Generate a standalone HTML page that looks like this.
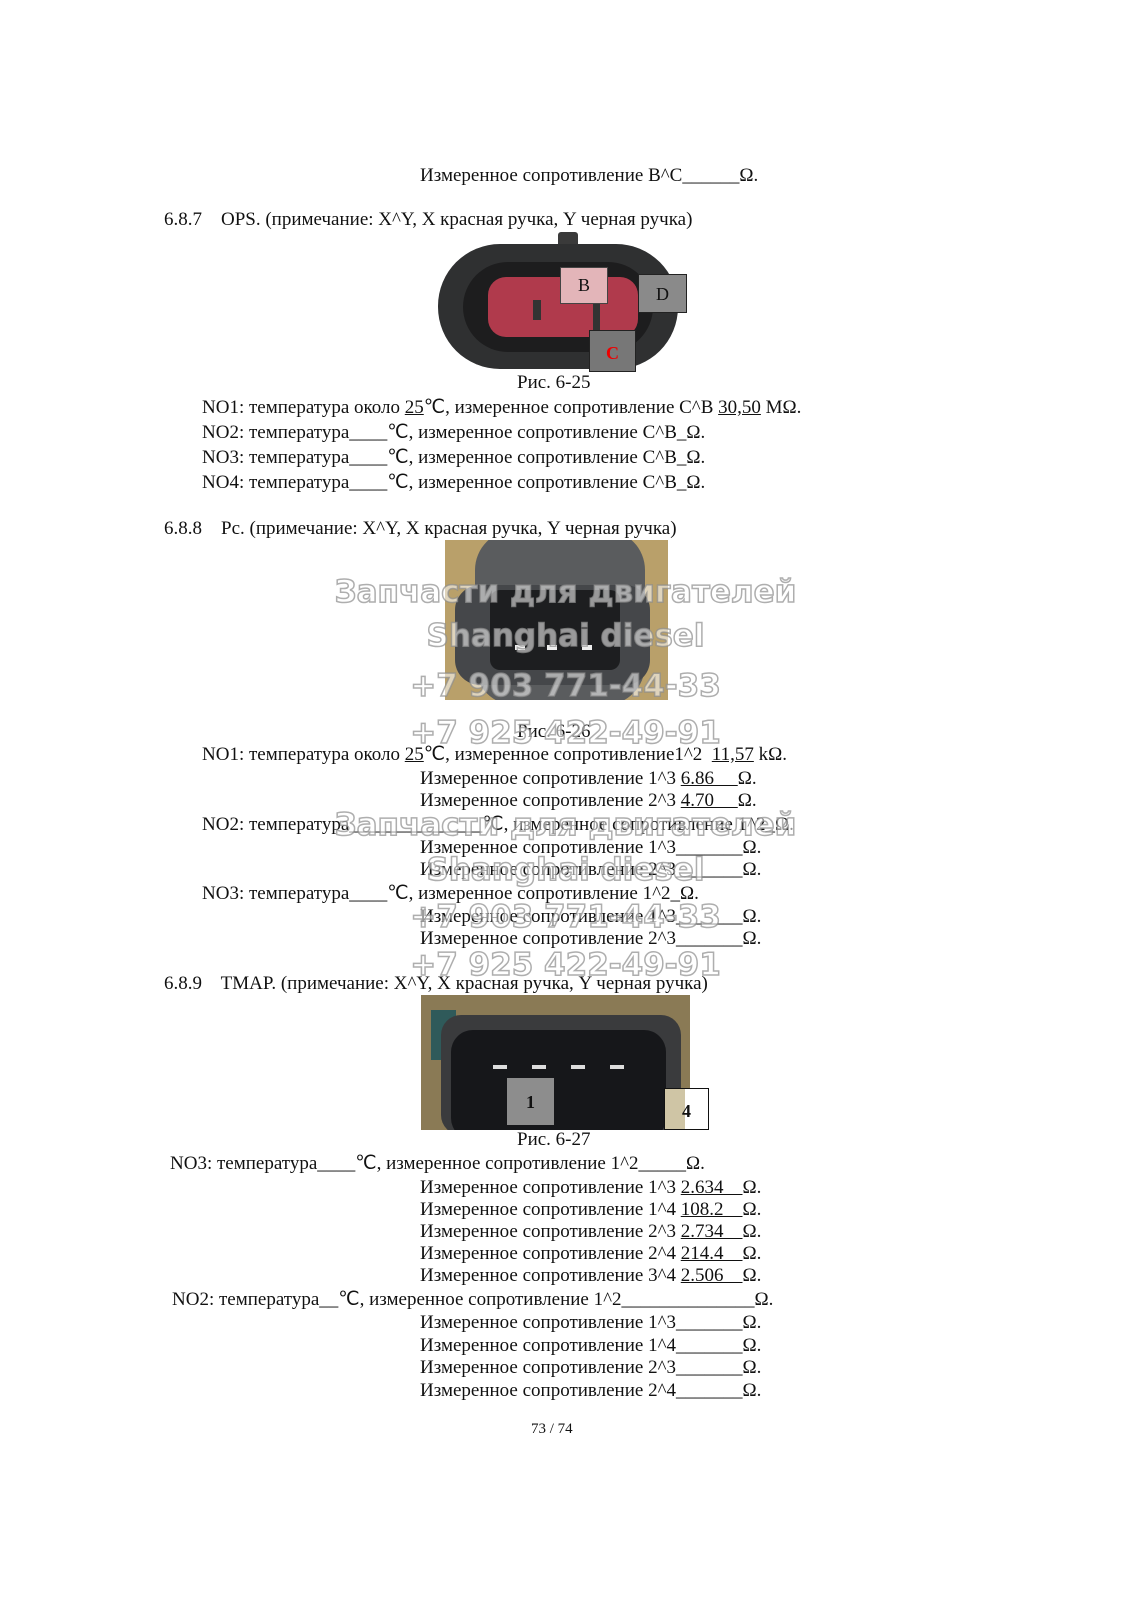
<!DOCTYPE html>
<html><head><meta charset="utf-8"><style>
body{margin:0;width:1131px;height:1600px;background:#fff;position:relative;overflow:hidden;font-family:"Liberation Serif",serif;font-size:19px;color:#111}
.t{position:absolute;white-space:pre;line-height:22px;height:22px}
u{text-decoration:underline}
.wm{position:absolute;left:0;width:1131px;text-align:center;font-family:"DejaVu Sans","Liberation Sans",sans-serif;font-weight:bold;font-size:31px;color:rgba(255,255,255,0.55);-webkit-text-stroke:1.5px rgba(140,140,140,0.7);line-height:40px}
.box{position:absolute;font-size:18px;text-align:center}
</style></head><body>
<div class="t" style="left:420px;top:165px">Измеренное сопротивление B^C______Ω.</div>
<div class="t" style="left:164px;top:209px">6.8.7    OPS. (примечание: X^Y, X красная ручка, Y черная ручка)</div>

<div style="position:absolute;left:438px;top:232px;width:250px;height:140px;">
 <div style="position:absolute;left:120px;top:0;width:20px;height:20px;background:#3a3a3a;border-radius:3px"></div>
 <div style="position:absolute;left:0;top:12px;width:240px;height:125px;background:#2f3031;border-radius:62px"></div>
 <div style="position:absolute;left:25px;top:30px;width:190px;height:90px;background:#1d1d1e;border-radius:45px"></div>
 <div style="position:absolute;left:50px;top:45px;width:150px;height:60px;background:#b03a4c;border-radius:18px"></div>
 <div style="position:absolute;left:95px;top:68px;width:8px;height:20px;background:#333"></div>
 <div style="position:absolute;left:155px;top:70px;width:7px;height:30px;background:#333"></div>
 <div class="box" style="left:122px;top:35px;width:46px;height:35px;background:#e3b5b9;border:1px solid #444;line-height:34px">B</div>
 <div class="box" style="left:200px;top:42px;width:47px;height:37px;background:#8a8a8a;border:1px solid #222;line-height:38px">D</div>
 <div class="box" style="left:151px;top:98px;width:45px;height:40px;background:#777;border:1px solid #222;line-height:44px;color:#e00;font-weight:bold">C</div>
</div>
<div class="t" style="left:517px;top:372px">Рис. 6-25</div>
<div class="t" style="left:202px;top:397px">NO1: температура около <u>25</u>℃, измеренное сопротивление C^B <u>30,50</u> MΩ.</div>
<div class="t" style="left:202px;top:422px">NO2: температура____℃, измеренное сопротивление C^B_Ω.</div>
<div class="t" style="left:202px;top:447px">NO3: температура____℃, измеренное сопротивление C^B_Ω.</div>
<div class="t" style="left:202px;top:472px">NO4: температура____℃, измеренное сопротивление C^B_Ω.</div>

<div class="t" style="left:164px;top:518px">6.8.8    Pc. (примечание: X^Y, X красная ручка, Y черная ручка)</div>
<div style="position:absolute;left:445px;top:540px;width:223px;height:160px;background:#b9a06a;overflow:hidden">
 <div style="position:absolute;left:30px;top:-10px;width:170px;height:175px;background:#5a5c5e;border-radius:40px"></div>
 <div style="position:absolute;left:10px;top:45px;width:195px;height:100px;background:#45474a;border-radius:25px"></div>
 <div style="position:absolute;left:45px;top:50px;width:130px;height:80px;background:#1d1e20;border-radius:10px"></div>
 <div style="position:absolute;left:70px;top:105px;width:10px;height:5px;background:#eee"></div>
 <div style="position:absolute;left:102px;top:105px;width:10px;height:5px;background:#eee"></div>
 <div style="position:absolute;left:137px;top:105px;width:10px;height:5px;background:#eee"></div>
</div>
<div class="t" style="left:517px;top:721px">Рис. 6-26</div>
<div class="t" style="left:202px;top:744px">NO1: температура около <u>25</u>℃, измеренное сопротивление1^2  <u>11,57</u> kΩ.</div>
<div class="t" style="left:420px;top:768px">Измеренное сопротивление 1^3 <u>6.86     </u>Ω.</div>
<div class="t" style="left:420px;top:790px">Измеренное сопротивление 2^3 <u>4.70     </u>Ω.</div>
<div class="t" style="left:202px;top:814px">NO2: температура______________℃, измеренное сопротивление 1^2_Ω.</div>
<div class="t" style="left:420px;top:837px">Измеренное сопротивление 1^3_______Ω.</div>
<div class="t" style="left:420px;top:859px">Измеренное сопротивление 2^3_______Ω.</div>
<div class="t" style="left:202px;top:883px">NO3: температура____℃, измеренное сопротивление 1^2_Ω.</div>
<div class="t" style="left:420px;top:906px">Измеренное сопротивление 1^3_______Ω.</div>
<div class="t" style="left:420px;top:928px">Измеренное сопротивление 2^3_______Ω.</div>

<div class="t" style="left:164px;top:973px">6.8.9    TMAP. (примечание: X^Y, X красная ручка, Y черная ручка)</div>
<div style="position:absolute;left:421px;top:995px;width:269px;height:135px;background:#8a7a55;overflow:hidden">
 <div style="position:absolute;left:10px;top:15px;width:25px;height:50px;background:#2f5a5a"></div>
 <div style="position:absolute;left:20px;top:20px;width:240px;height:120px;background:#3a3b3d;border-radius:20px"></div>
 <div style="position:absolute;left:30px;top:35px;width:215px;height:110px;background:#16171a;border-radius:22px"></div>
 <div style="position:absolute;left:72px;top:70px;width:14px;height:4px;background:#ddd"></div>
 <div style="position:absolute;left:111px;top:70px;width:14px;height:4px;background:#ddd"></div>
 <div style="position:absolute;left:150px;top:70px;width:14px;height:4px;background:#ddd"></div>
 <div style="position:absolute;left:189px;top:70px;width:14px;height:4px;background:#ddd"></div>
 <div class="box" style="left:86px;top:83px;width:47px;height:47px;background:#8d8d8d;line-height:48px;font-weight:bold">1</div>
</div>
<div class="box" style="left:664px;top:1088px;width:43px;height:40px;background:linear-gradient(90deg,#cfc5a5 0 20px,#fff 20px);border:1px solid #111;line-height:44px;font-weight:bold">4</div>
<div class="t" style="left:517px;top:1129px">Рис. 6-27</div>
<div class="t" style="left:170px;top:1153px">NO3: температура____℃, измеренное сопротивление 1^2_____Ω.</div>
<div class="t" style="left:420px;top:1177px">Измеренное сопротивление 1^3 <u>2.634    </u>Ω.</div>
<div class="t" style="left:420px;top:1199px">Измеренное сопротивление 1^4 <u>108.2    </u>Ω.</div>
<div class="t" style="left:420px;top:1221px">Измеренное сопротивление 2^3 <u>2.734    </u>Ω.</div>
<div class="t" style="left:420px;top:1243px">Измеренное сопротивление 2^4 <u>214.4    </u>Ω.</div>
<div class="t" style="left:420px;top:1265px">Измеренное сопротивление 3^4 <u>2.506    </u>Ω.</div>
<div class="t" style="left:172px;top:1289px">NO2: температура__℃, измеренное сопротивление 1^2______________Ω.</div>
<div class="t" style="left:420px;top:1312px">Измеренное сопротивление 1^3_______Ω.</div>
<div class="t" style="left:420px;top:1335px">Измеренное сопротивление 1^4_______Ω.</div>
<div class="t" style="left:420px;top:1357px">Измеренное сопротивление 2^3_______Ω.</div>
<div class="t" style="left:420px;top:1380px">Измеренное сопротивление 2^4_______Ω.</div>
<div class="t" style="left:531px;top:1418px;font-size:15px">73 / 74</div>

<div class="wm" style="top:572px">Запчасти для двигателей</div>
<div class="wm" style="top:616px">Shanghai diesel</div>
<div class="wm" style="top:666px">+7 903 771-44-33</div>
<div class="wm" style="top:713px">+7 925 422-49-91</div>
<div class="wm" style="top:805px">Запчасти для двигателей</div>
<div class="wm" style="top:850px">Shanghai diesel</div>
<div class="wm" style="top:897px">+7 903 771-44-33</div>
<div class="wm" style="top:945px">+7 925 422-49-91</div>
</body></html>
